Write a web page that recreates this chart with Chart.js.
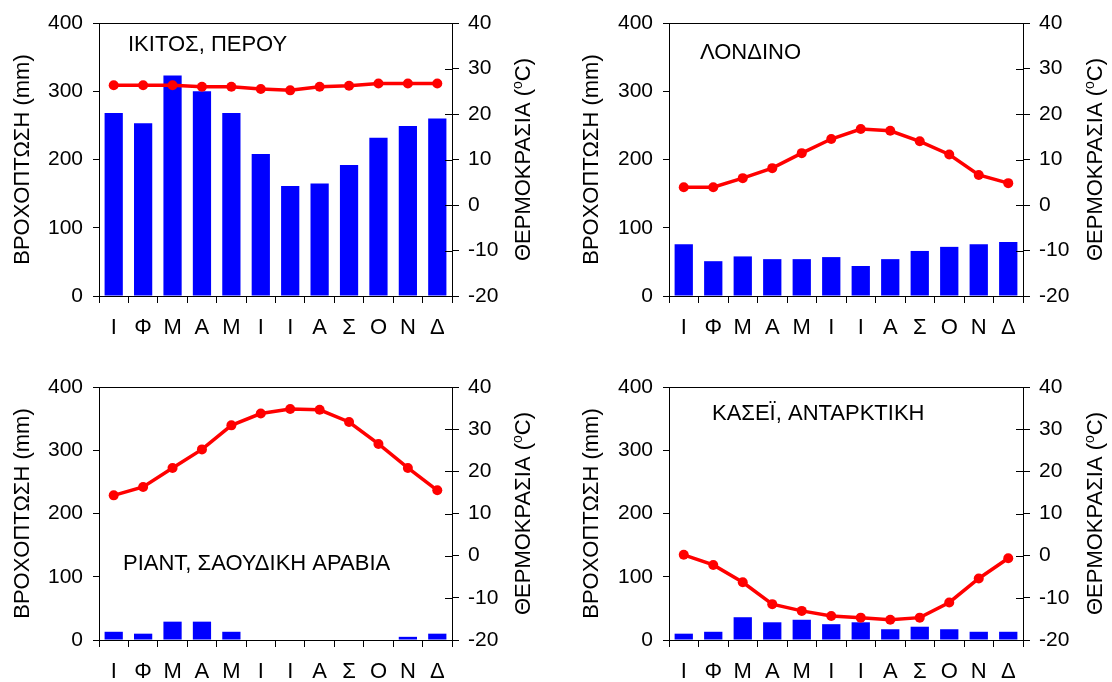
<!DOCTYPE html>
<html>
<head>
<meta charset="utf-8">
<script src="https://cdn.jsdelivr.net/npm/chart.js@4/dist/chart.umd.min.js"></script>
<style>
  html, body { margin: 0; padding: 0; background: #fff; }
  #wrap { position: relative; width: 1112px; height: 682px; overflow: hidden; }
  #wrap canvas { position: absolute; }
</style>
</head>
<body>
<div id="wrap">
  <canvas id="c0" width="556" height="341" style="left:0;top:0"></canvas>
  <canvas id="c1" width="556" height="341" style="left:556px;top:0"></canvas>
  <canvas id="c2" width="556" height="341" style="left:0;top:341px"></canvas>
  <canvas id="c3" width="556" height="341" style="left:556px;top:341px"></canvas>
</div>
<script>
// Month initials (Greek)
const months = ['Ι', 'Φ', 'Μ', 'Α', 'Μ', 'Ι', 'Ι', 'Α', 'Σ', 'Ο', 'Ν', 'Δ'];

// Station names
const stations = ['ΙΚΙΤΟΣ, ΠΕΡΟΥ', 'ΛΟΝΔΙΝΟ', 'ΡΙΑΝΤ, ΣΑΟΥΔΙΚΗ ΑΡΑΒΙΑ', 'ΚΑΣΕΪ, ΑΝΤΑΡΚΤΙΚΗ'];

// Monthly precipitation (mm)
const rainIquitos = [268, 253, 323, 300, 268, 208, 161, 165, 192, 232, 249, 260];
const rainLondon  = [76, 51, 58, 54, 54, 57, 44, 54, 66, 72, 76, 79];
const rainRiyadh  = [13, 10, 29, 29, 13, 0, 0, 0, 0, 0, 5, 10];
const rainCasey   = [10, 13, 36, 28, 32, 25, 28, 17, 21, 17, 13, 13];

// Monthly mean temperature (°C)
const tempIquitos = [26.3, 26.3, 26.3, 26.0, 26.0, 25.5, 25.2, 26.0, 26.2, 26.7, 26.7, 26.7];
const tempLondon  = [3.9, 3.9, 5.9, 8.1, 11.4, 14.5, 16.7, 16.3, 14.0, 11.1, 6.6, 4.8];
const tempRiyadh  = [14.3, 16.3, 20.8, 25.2, 30.9, 33.7, 34.8, 34.6, 31.7, 26.5, 20.8, 15.5];
const tempCasey   = [0.2, -2.2, -6.3, -11.5, -13.1, -14.3, -14.7, -15.2, -14.7, -11.1, -5.4, -0.6];

// Axis ranges
const rainAxis = { min: 0, max: 400, step: 100 };
const tempAxis = { min: -20, max: 40, step: 10 };

const leftTitle = 'ΒΡΟΧΟΠΤΩΣΗ (mm)';
const rightTitleParts = ['ΘΕΡΜΟΚΡΑΣΙΑ (', 'o', 'C)'];

const FONT = "'Liberation Sans', Arial, sans-serif";
const FS = 21;      // tick labels
const FT = 22;      // axis titles and station names

// Panel layout inside each canvas
const panels = [
  { canvas: 'c0', rain: rainIquitos, temp: tempIquitos, name: stations[0],
    area: { left: 99, right: 452, top: 23, bottom: 296 }, lt: 23, rt: 524, nameX: 128, nameY: 45 },
  { canvas: 'c1', rain: rainLondon, temp: tempLondon, name: stations[1],
    area: { left: 113, right: 467, top: 23, bottom: 296 }, lt: 36, rt: 540, nameX: 144, nameY: 53 },
  { canvas: 'c2', rain: rainRiyadh, temp: tempRiyadh, name: stations[2],
    area: { left: 99, right: 452, top: 46, bottom: 299 }, lt: 23, rt: 524, nameX: 123, nameY: 223 },
  { canvas: 'c3', rain: rainCasey, temp: tempCasey, name: stations[3],
    area: { left: 113, right: 467, top: 46, bottom: 299 }, lt: 36, rt: 540, nameX: 156, nameY: 73 }
];

// Frame top line, inner ticks of the temperature axis, axis titles and station name
const overlay = {
  id: 'overlay',
  afterDraw(chart, args, o) {
    const { ctx, chartArea: a } = chart;
    ctx.save();
    ctx.strokeStyle = '#000';
    ctx.lineWidth = 1;
    ctx.beginPath();
    ctx.moveTo(a.left, Math.round(a.top) + 0.5);
    ctx.lineTo(a.right + 0.5, Math.round(a.top) + 0.5);
    ctx.stroke();

    const s = chart.scales.y1;
    ctx.beginPath();
    s.ticks.forEach((t, i) => {
      const py = Math.round(s.getPixelForTick(i)) + 0.5;
      ctx.moveTo(a.right - 7, py);
      ctx.lineTo(a.right, py);
    });
    ctx.stroke();

    const midY = (a.top + a.bottom) / 2;
    ctx.fillStyle = '#000';
    ctx.textBaseline = 'middle';

    // left title
    ctx.save();
    ctx.translate(o.lt, midY);
    ctx.rotate(-Math.PI / 2);
    ctx.font = FT + 'px ' + FONT;
    ctx.textAlign = 'center';
    ctx.fillText(leftTitle, 0, 0);
    ctx.restore();

    // right title with superscript o
    ctx.save();
    ctx.translate(o.rt, midY);
    ctx.rotate(-Math.PI / 2);
    ctx.textAlign = 'left';
    const big = FT + 'px ' + FONT, small = '14px ' + FONT;
    ctx.font = big; const w0 = ctx.measureText(rightTitleParts[0]).width;
    ctx.font = small; const w1 = ctx.measureText(rightTitleParts[1]).width;
    ctx.font = big; const w2 = ctx.measureText(rightTitleParts[2]).width;
    let x = -(w0 + w1 + w2) / 2;
    ctx.font = big; ctx.fillText(rightTitleParts[0], x, 0); x += w0;
    ctx.font = small; ctx.fillText(rightTitleParts[1], x, -6); x += w1;
    ctx.font = big; ctx.fillText(rightTitleParts[2], x, 0);
    ctx.restore();

    // station name
    ctx.font = FT + 'px ' + FONT;
    ctx.textAlign = 'left';
    ctx.fillText(o.name, o.nameX, o.nameY);
    ctx.restore();
  }
};

panels.forEach(p => {
  const W = 556, H = 341;
  const tickFont = { family: FONT, size: FS };
  new Chart(document.getElementById(p.canvas), {
    type: 'bar',
    data: {
      labels: months,
      datasets: [
        { type: 'line', data: p.temp, yAxisID: 'y1', order: 0,
          borderColor: '#FF0000', backgroundColor: '#FF0000', borderWidth: 3.5,
          pointRadius: 5, pointBackgroundColor: '#FF0000', pointBorderWidth: 0, tension: 0 },
        { type: 'bar', data: p.rain, yAxisID: 'y', order: 1,
          backgroundColor: '#0000FF', barPercentage: 0.62, categoryPercentage: 1 }
      ]
    },
    options: {
      responsive: false,
      animation: false,
      events: [],
      layout: { padding: { top: p.area.top, left: 0, right: 0, bottom: 0 } },
      plugins: {
        legend: { display: false },
        tooltip: { enabled: false },
        overlay: { lt: p.lt, rt: p.rt, name: p.name, nameX: p.nameX, nameY: p.nameY }
      },
      scales: {
        x: {
          grid: { offset: true, drawOnChartArea: false, tickLength: 7, color: '#000' },
          border: { color: '#000' },
          ticks: { color: '#000', font: { family: FONT, size: FT }, padding: 12, maxRotation: 0, autoSkip: false },
          afterFit(s) { s.height = H - p.area.bottom; }
        },
        y: {
          position: 'left', min: rainAxis.min, max: rainAxis.max,
          ticks: { stepSize: rainAxis.step, color: '#000', font: tickFont, padding: 10 },
          grid: { drawOnChartArea: false, tickLength: 6, color: '#000' },
          border: { color: '#000' },
          afterFit(s) { s.width = p.area.left; }
        },
        y1: {
          position: 'right', min: tempAxis.min, max: tempAxis.max,
          ticks: { stepSize: tempAxis.step, color: '#000', font: tickFont, padding: 9 },
          grid: { drawOnChartArea: false, tickLength: 7, color: '#000' },
          border: { color: '#000' },
          afterFit(s) { s.width = W - p.area.right; }
        }
      }
    },
    plugins: [overlay]
  });
});
</script>
</body>
</html>
